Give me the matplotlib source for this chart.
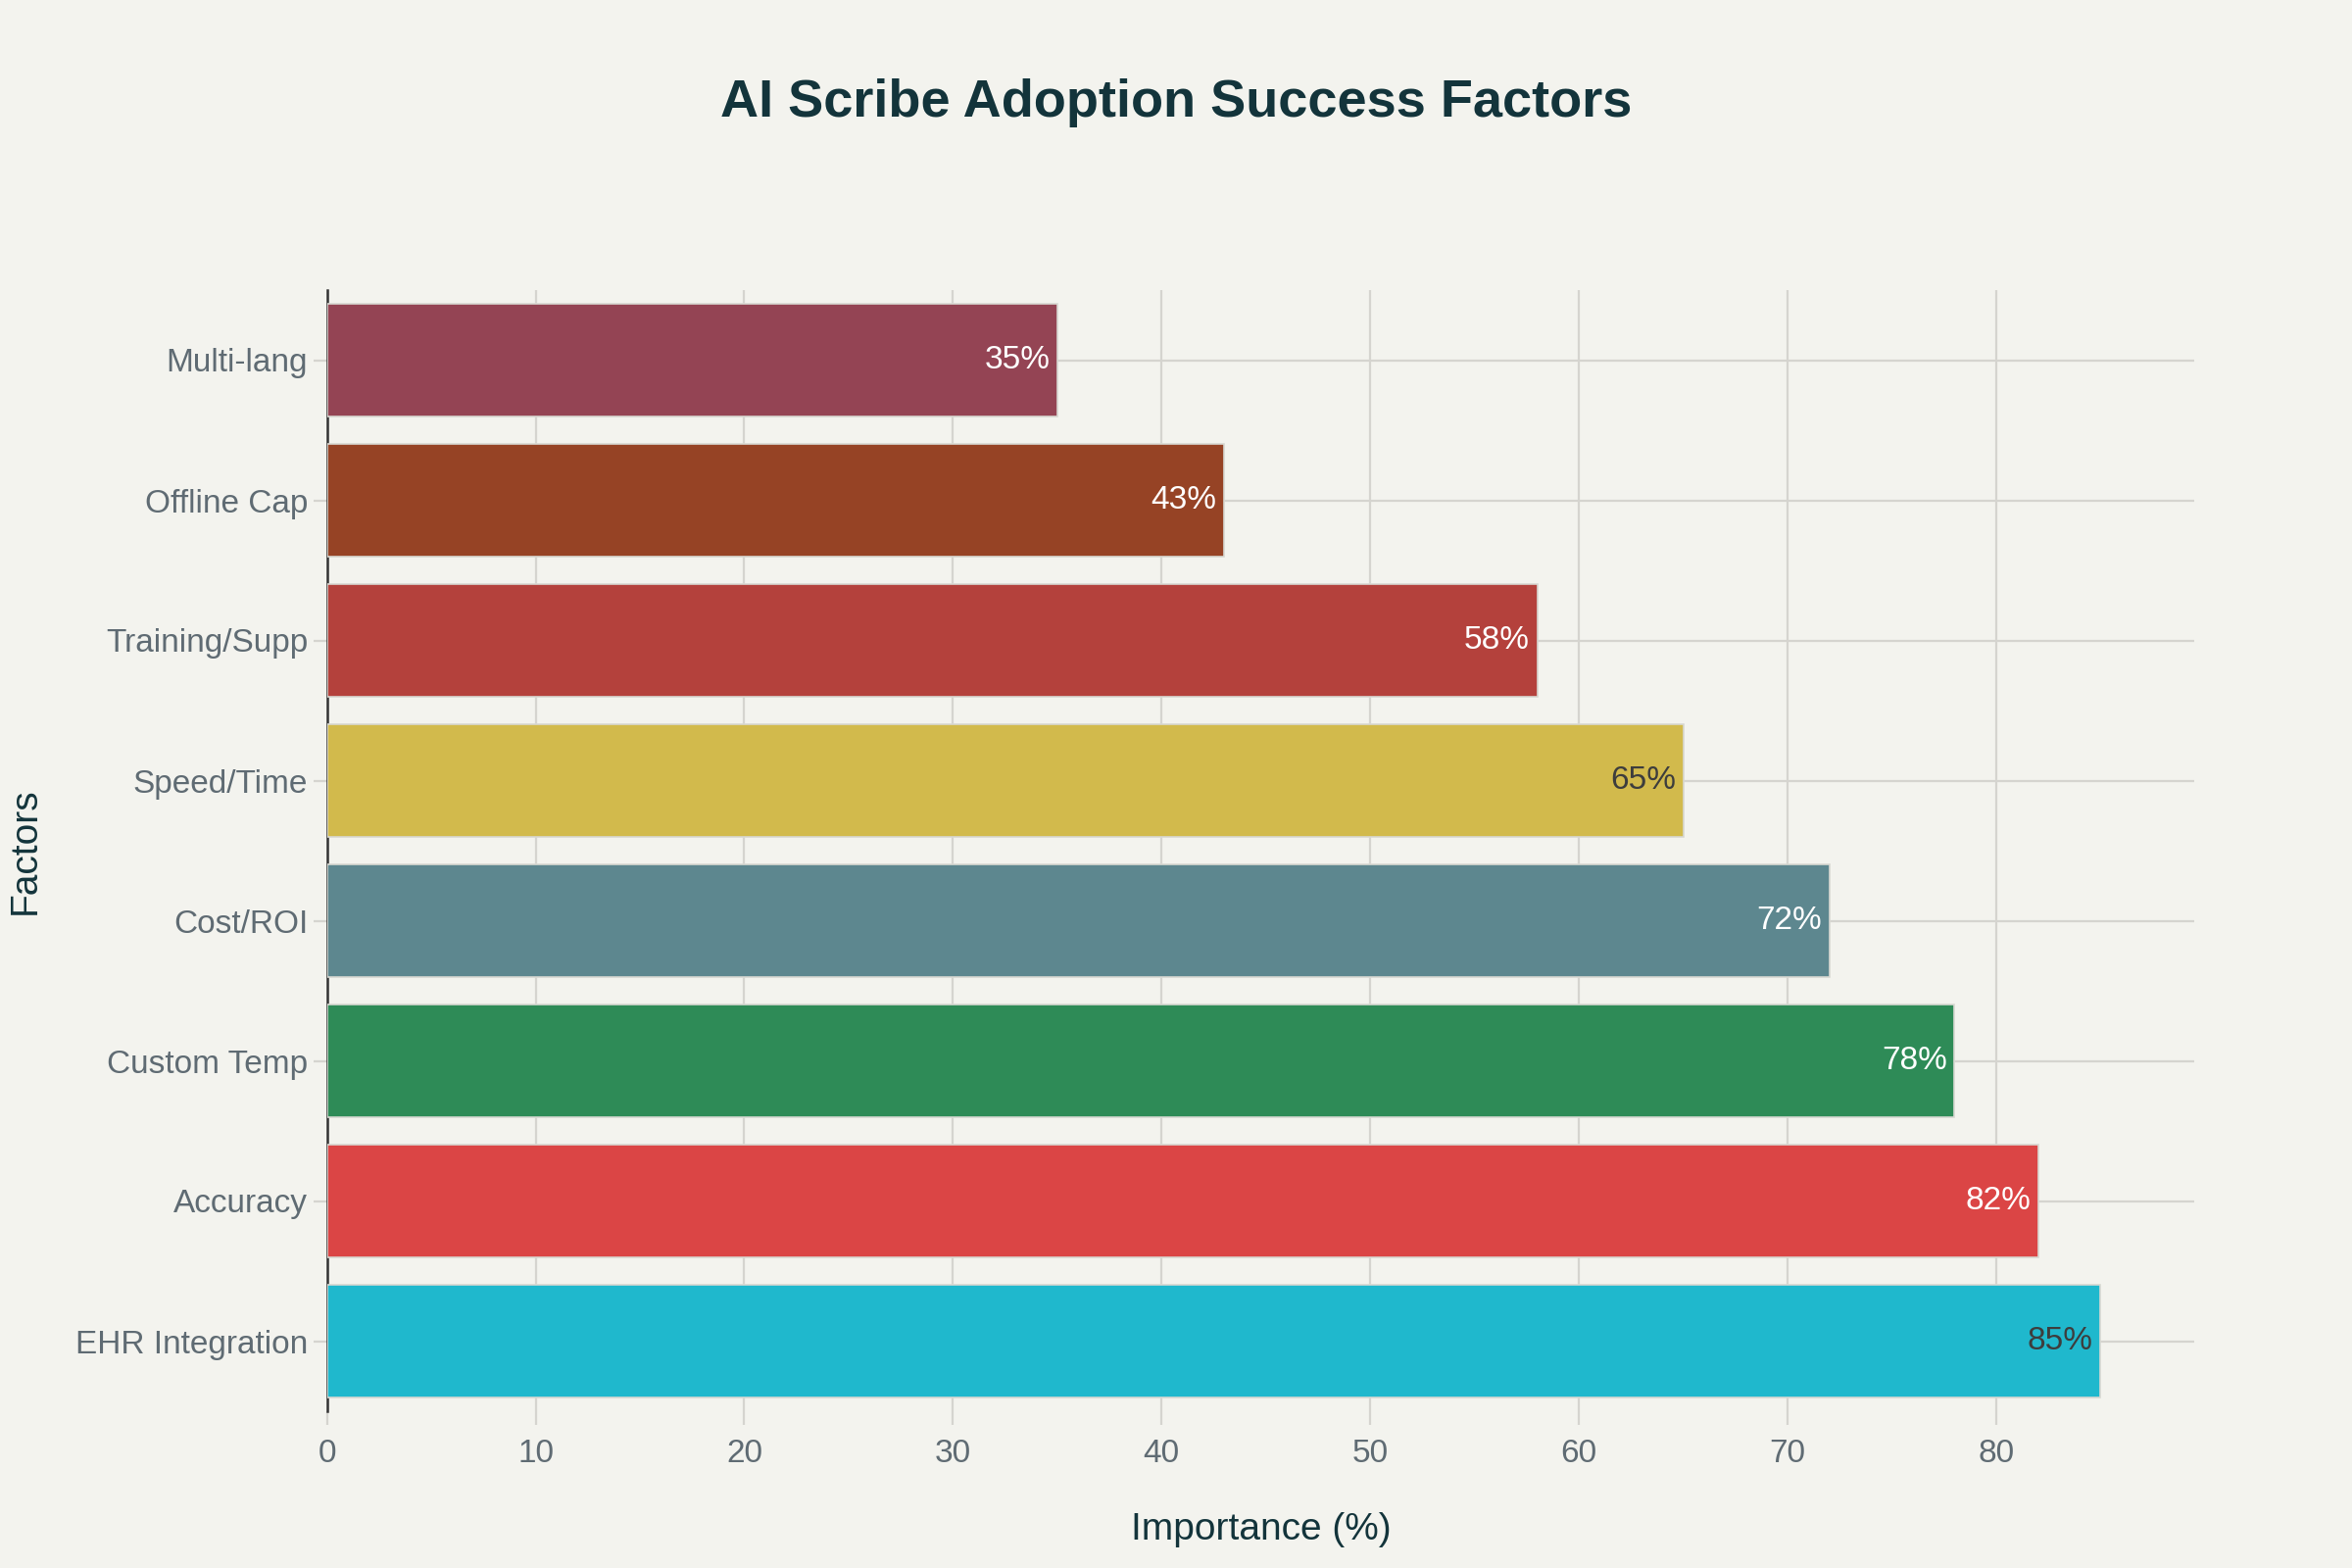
import numpy as np
import matplotlib
matplotlib.use("Agg")
import matplotlib.pyplot as plt

# data, bottom to top
factors = ["EHR Integration", "Accuracy", "Custom Temp", "Cost/ROI",
           "Speed/Time", "Training/Supp", "Offline Cap", "Multi-lang"]
importance = [85, 82, 78, 72, 65, 58, 43, 35]
bar_colors = ["#1FB8CD", "#DB4545", "#2E8B57", "#5D878F",
              "#D2BA4C", "#B4413C", "#964325", "#944454"]
label_colors = ["#3d3d3d", "white", "white", "white",
                "#3d3d3d", "white", "white", "white"]
x_ticks = [0, 10, 20, 30, 40, 50, 60, 70, 80]

plt.rcParams['font.family'] = ['Liberation Sans', 'DejaVu Sans']

bg = "#F3F3EE"
fig = plt.figure(figsize=(12, 8), dpi=200, facecolor=bg)
ax = fig.add_axes([0.139, 0.100, 0.794, 0.715], facecolor=bg)

y = np.arange(len(factors))
ax.barh(y, importance, height=0.8, color=bar_colors,
        edgecolor="#d8d8d2", linewidth=0.6, zorder=3)

for yi, v, c in zip(y, importance, label_colors):
    ax.text(v - 0.35, yi, f"{v}%", ha="right", va="center",
            fontsize=12, color=c, zorder=4)

ax.set_xlim(0, 89.5)
ax.set_ylim(-0.5, len(factors) - 0.5)
ax.set_xticks(x_ticks)
ax.set_yticks(y)
ax.set_yticklabels(factors)

ax.grid(True, color="#d5d4cf", linewidth=0.8, zorder=0)
ax.set_axisbelow(True)

for s in ["top", "right", "bottom"]:
    ax.spines[s].set_visible(False)
ax.spines["left"].set_color("#333333")
ax.spines["left"].set_linewidth(0.9)

ax.tick_params(axis="both", colors="#d5d4cf", labelcolor="#5f6b73",
               labelsize=12, length=5, width=0.8)
ax.tick_params(axis="y", pad=2)
ax.tick_params(axis="x", pad=5)

ax.set_xlabel("Importance (%)", fontsize=14, color="#13343B", labelpad=16)
ax.set_ylabel("Factors", fontsize=14, color="#13343B", labelpad=12)

fig.suptitle("AI Scribe Adoption Success Factors", fontsize=19.5,
             fontweight="bold", color="#13343B", y=0.95)

fig.savefig("out.png", dpi=200, facecolor=bg)
